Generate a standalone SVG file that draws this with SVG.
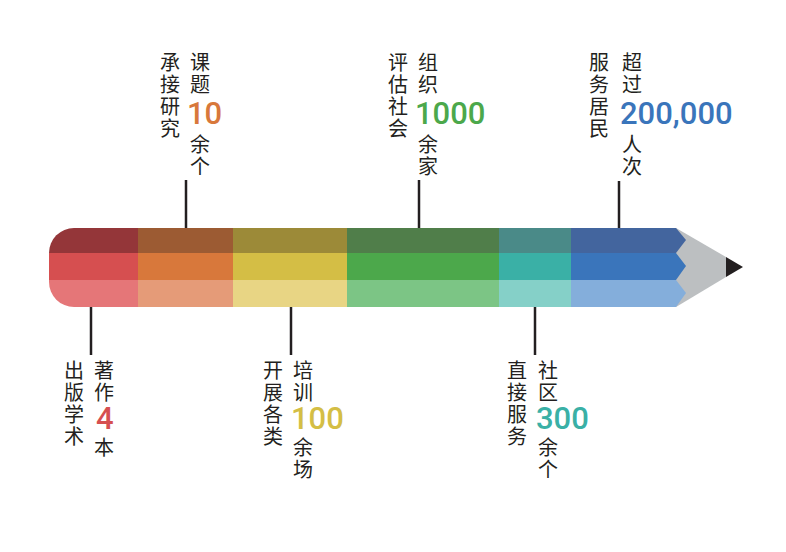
<svg xmlns="http://www.w3.org/2000/svg" width="786" height="552" viewBox="0 0 786 552">
<style>
.t{font-family:"Noto Sans CJK SC","Noto Sans",sans-serif;font-size:20px;fill:#231f20}
.n{font-family:Roboto,"DejaVu Sans",sans-serif;font-size:31px;font-weight:500}
.ln{stroke:#231f20;stroke-width:2.5}
</style>
<defs><clipPath id="c"><path d="M74,228 H800 V307 H74 A25,25 0 0 1 49,282 V253 A25,25 0 0 1 74,228 Z"/></clipPath></defs>
<rect width="786" height="552" fill="#fff"/>
<g id="pencil">
<polygon points="676,228 726,257 726,277 676,307" fill="#bcbfc1"/>
<polygon points="726,257 743,267 726,277" fill="#231f20"/>
<g clip-path="url(#c)">
<rect x="49" y="228" width="89" height="25" fill="#943639"/><rect x="49" y="253" width="89" height="27" fill="#d64f50"/><rect x="49" y="280" width="89" height="27" fill="#e57678"/>
<rect x="138" y="228" width="95" height="25" fill="#9c5b33"/><rect x="138" y="253" width="95" height="27" fill="#d8783b"/><rect x="138" y="280" width="95" height="27" fill="#e59b78"/>
<rect x="233" y="228" width="114" height="25" fill="#9c8a38"/><rect x="233" y="253" width="114" height="27" fill="#d4be45"/><rect x="233" y="280" width="114" height="27" fill="#e8d584"/>
<rect x="347" y="228" width="152" height="25" fill="#507e4a"/><rect x="347" y="253" width="152" height="27" fill="#4ca84b"/><rect x="347" y="280" width="152" height="27" fill="#7cc585"/>
<rect x="499" y="228" width="72" height="25" fill="#4a8a88"/><rect x="499" y="253" width="72" height="27" fill="#3ab0a6"/><rect x="499" y="280" width="72" height="27" fill="#85d0c8"/>
<polygon points="571,228 676,228 686,240 676,253 571,253" fill="#43659e"/>
<polygon points="571,253 676,253 686,266 676,280 571,280" fill="#3a75bb"/>
<polygon points="571,280 676,280 686,293 676,307 571,307" fill="#84aedb"/>
</g>
</g>
<g id="connectors">
<line class="ln" x1="186" y1="180" x2="186" y2="228"/>
<line class="ln" x1="419" y1="180" x2="419" y2="228"/>
<line class="ln" x1="619" y1="181" x2="619" y2="228"/>
<line class="ln" x1="91" y1="307" x2="91" y2="355"/>
<line class="ln" x1="291" y1="307" x2="291" y2="355"/>
<line class="ln" x1="535" y1="307" x2="535" y2="355"/>
</g>
<g id="n1" class="t">
<text x="160" y="70">承</text><text x="160" y="92">接</text><text x="160" y="114">研</text><text x="160" y="136">究</text>
<text x="190" y="70">课</text><text x="190" y="92">题</text><text x="190" y="152">余</text><text x="190" y="174">个</text>
<text class="n" x="187" y="124" fill="#d8783b">10</text>
</g>
<g id="n2" class="t">
<text x="388" y="70">评</text><text x="388" y="92">估</text><text x="388" y="114">社</text><text x="388" y="136">会</text>
<text x="418" y="70">组</text><text x="418" y="92">织</text><text x="418" y="152">余</text><text x="418" y="174">家</text>
<text class="n" x="415" y="124" fill="#4ca84b">1000</text>
</g>
<g id="n3" class="t">
<text x="589" y="70">服</text><text x="589" y="92">务</text><text x="589" y="114">居</text><text x="589" y="136">民</text>
<text x="622" y="70">超</text><text x="622" y="92">过</text><text x="622" y="152">人</text><text x="622" y="174">次</text>
<text class="n" x="620" y="124" fill="#3a75bb">200,000</text>
</g>
<g id="n4" class="t">
<text x="64" y="378">出</text><text x="64" y="400">版</text><text x="64" y="422">学</text><text x="64" y="444">术</text>
<text x="94" y="378">著</text><text x="94" y="400">作</text><text x="94" y="455">本</text>
<text class="n" x="96" y="429" fill="#d64f50">4</text>
</g>
<g id="n5" class="t">
<text x="263" y="378">开</text><text x="263" y="400">展</text><text x="263" y="422">各</text><text x="263" y="444">类</text>
<text x="293" y="378">培</text><text x="293" y="400">训</text><text x="293" y="455">余</text><text x="293" y="477">场</text>
<text class="n" x="291" y="429" fill="#d4be45">100</text>
</g>
<g id="n6" class="t">
<text x="507" y="378">直</text><text x="507" y="400">接</text><text x="507" y="422">服</text><text x="507" y="444">务</text>
<text x="538" y="378">社</text><text x="538" y="400">区</text><text x="538" y="455">余</text><text x="538" y="477">个</text>
<text class="n" x="536" y="429" fill="#3ab0a6">300</text>
</g>
</svg>
